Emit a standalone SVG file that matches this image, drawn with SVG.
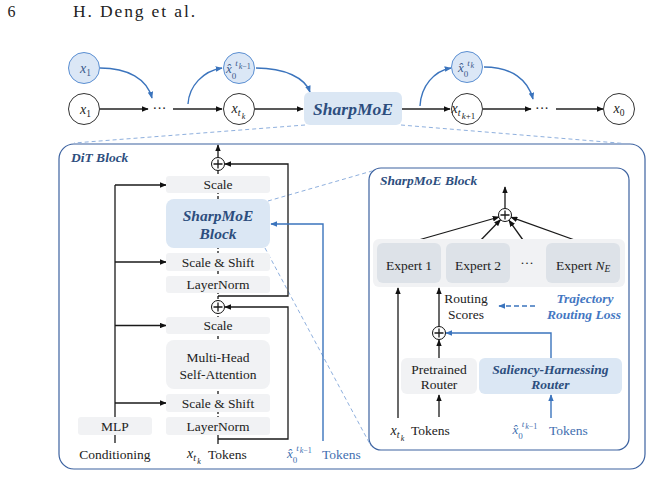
<svg xmlns="http://www.w3.org/2000/svg" width="652" height="477" viewBox="0 0 652 477">
<defs>
<style>
text{font-family:"Liberation Serif","Times New Roman",serif;fill:#222}
.t{font-size:13.5px;text-anchor:middle}
.bi{font-weight:bold;font-style:italic;fill:#2d4e7e}
.it{font-style:italic}
.up{font-style:normal}
.mb{fill:#3b5a8c}
.blue{fill:#3f6fb0}
.lb{fill:#4477c2;font-weight:bold;font-style:italic}
.box{fill:#f1f2f4}
.bbox{fill:#dbe7f4}
.row{fill:#f1f2f4}
.ex{fill:#dde2e8}
.ln{fill:none;stroke:#1a1a1a;stroke-width:1.3}
.top{fill:none;stroke:#222;stroke-width:1.6}
.bl{fill:none;stroke:#3b74bd;stroke-width:1.4}
.gd{fill:none;stroke:#8fb0de;stroke-width:1;stroke-dasharray:4 3}
.node{fill:#fff;stroke:#333;stroke-width:1}
.bnode{fill:#dbe7f6;stroke:#5b8fd2;stroke-width:1}
.plus{fill:#fff;stroke:#111;stroke-width:1}
.frame{fill:#fff;stroke:#3c62a0;stroke-width:1.2}
</style>
<marker id="ak" viewBox="0 0 10 8" refX="9" refY="4" markerWidth="7" markerHeight="5.6" markerUnits="userSpaceOnUse" orient="auto"><path d="M0,0L10,4L0,8z" fill="#111"/></marker>
<marker id="ab" viewBox="0 0 10 8" refX="9" refY="4" markerWidth="7" markerHeight="5.6" markerUnits="userSpaceOnUse" orient="auto"><path d="M0,0L10,4L0,8z" fill="#3b74bd"/></marker>
</defs>
<rect width="652" height="477" fill="#fff"/>
<g id="header">
<text x="7.5" y="17" font-size="16">6</text>
<text x="73" y="17" font-size="17.5" textLength="122" lengthAdjust="spacing">H. Deng et al.</text>
</g>
<g id="dit-frame"><rect class="frame" x="59" y="144" width="586" height="325" rx="15"/>
<text class="bi" x="71" y="162" font-size="13.5">DiT Block</text></g>
<g id="moe-frame"><rect class="frame" x="369" y="168" width="260" height="282" rx="12"/>
<text class="bi" x="380" y="185" font-size="13.5">SharpMoE Block</text></g>
<g id="guides">
<path class="gd" d="M305,125L74,143"/>
<path class="gd" d="M401,125L624,143.5"/>
<path class="gd" d="M268,201L372,171"/>
<path class="gd" d="M265,248L371,446"/>
</g>
<g id="connectors">
<path class="top" d="M100,109H148" marker-end="url(#ak)"/>
<path class="top" d="M173,109H222" marker-end="url(#ak)"/>
<path class="top" d="M255,109H303" marker-end="url(#ak)"/>
<path class="top" d="M402,109H450" marker-end="url(#ak)"/>
<path class="top" d="M483,109H531" marker-end="url(#ak)"/>
<path class="top" d="M556,109H603" marker-end="url(#ak)"/>
<path class="bl" d="M100,68C128,68 147,79 152,98" marker-end="url(#ab)"/>
<path class="bl" d="M188,104C189,86 203,71 222,68" marker-end="url(#ab)"/>
<path class="bl" d="M256,68C285,68 305,78 310,92" marker-end="url(#ab)"/>
<path class="bl" d="M420,106C421,86 434,71 451,68" marker-end="url(#ab)"/>
<path class="bl" d="M484,67C512,67 528,80 533,99" marker-end="url(#ab)"/>
<path class="ln" stroke-dasharray="3 2" d="M218,171V435"/>
<path class="ln" d="M218,435V444"/>
<path class="ln" d="M218,157.5V145" marker-end="url(#ak)"/>
<path class="ln" d="M218,296H288V164H225" marker-end="url(#ak)"/>
<path class="ln" d="M218,439H288V307H225" marker-end="url(#ak)"/>
<path class="ln" d="M115,443V185"/>
<path class="ln" d="M115,185H166" marker-end="url(#ak)"/>
<path class="ln" d="M115,262H166" marker-end="url(#ak)"/>
<path class="ln" d="M115,325.5H166" marker-end="url(#ak)"/>
<path class="ln" d="M115,403H166" marker-end="url(#ak)"/>
<path class="bl" d="M323,441V224H271" marker-end="url(#ab)"/>
<path class="ln" d="M398,418V288" marker-end="url(#ak)"/>
<path class="ln" d="M439,326.5V288" marker-end="url(#ak)"/>
<path class="ln" d="M439,358V340" marker-end="url(#ak)"/>
<path class="ln" d="M439,417V395" marker-end="url(#ak)"/>
<path class="bl" d="M551,358V333H446" marker-end="url(#ab)"/>
<path class="bl" d="M551,418V395" marker-end="url(#ab)"/>
<path class="bl" stroke-dasharray="5 3" d="M535,306H499" marker-end="url(#ab)"/>
<path class="ln" d="M408,243L499,217" marker-end="url(#ak)"/>
<path class="ln" d="M478,243L500.5,219.7" marker-end="url(#ak)"/>
<path class="ln" d="M523,240L509,220.3" marker-end="url(#ak)"/>
<path class="ln" d="M583,243L511,217.2" marker-end="url(#ak)"/>
<path class="ln" d="M505,208.5V187" marker-end="url(#ak)"/>
</g>
<g id="n-x1-blue"><circle class="bnode" cx="84" cy="68" r="15.5"/>
<text class="it mb" x="80" y="72.5" font-size="14">x<tspan class="up" font-size="9.5" dy="3">1</tspan></text></g>
<g id="n-x1"><circle class="node" cx="84" cy="109" r="15.5"/>
<text class="it" x="80" y="113.5" font-size="14">x<tspan class="up" font-size="9.5" dy="3">1</tspan></text></g>
<g id="n-dots1"><text x="159.5" y="112.5" font-size="14" text-anchor="middle">···</text></g>
<g id="n-xtk"><circle class="node" cx="239" cy="109" r="15.5"/>
<text class="it" x="231.5" y="113" font-size="14">x<tspan font-size="10" dy="3">t</tspan><tspan font-size="8" dx="1.3" dy="3">k</tspan></text></g>
<g id="n-x0hat-tk1"><circle class="bnode" cx="239" cy="68" r="15.5"/>
<text class="it mb" x="226" y="72.5" font-size="13">x̂<tspan class="up" font-size="9" dy="6.5">0</tspan><tspan font-size="9" dx="-1" dy="-13">t</tspan><tspan font-size="8" dx="1" dy="2.5">k<tspan class="up">−1</tspan></tspan></text></g>
<g id="n-sharpmoe"><rect class="bbox" x="304" y="92" width="98" height="33" rx="6"/>
<text class="bi" x="353" y="115" font-size="17.5" text-anchor="middle">SharpMoE</text></g>
<g id="n-xtk1"><circle class="node" cx="467" cy="109" r="15.5"/>
<text class="it" x="451.5" y="113" font-size="14">x<tspan font-size="10" dy="3">t</tspan><tspan font-size="9" dx="1.2" dy="3">k<tspan class="up">+1</tspan></tspan></text></g>
<g id="n-x0hat-tk"><circle class="bnode" cx="467" cy="67" r="15.5"/>
<text class="it mb" x="458" y="71.5" font-size="13">x̂<tspan class="up" font-size="9" dy="5">0</tspan><tspan font-size="9" dx="-1" dy="-11">t</tspan><tspan font-size="8" dx="0.8" dy="2.5">k</tspan></text></g>
<g id="n-dots2"><text x="542" y="112.5" font-size="14" text-anchor="middle">···</text></g>
<g id="n-x0"><circle class="node" cx="619" cy="109" r="15.5"/>
<text class="it" x="613.5" y="113" font-size="14">x<tspan class="up" font-size="9.5" dy="3">0</tspan></text></g>

<g id="d-plus1"><circle class="plus" cx="218" cy="164" r="6.5"/><path class="ln" stroke-width="1" d="M213.5,164H222.5M218,159.5V168.5"/></g>
<g id="d-scale1"><rect class="box" x="166" y="176" width="104" height="17" rx="3"/><text class="t" x="218" y="189">Scale</text></g>
<g id="d-moeblock"><rect class="bbox" x="166" y="199" width="104" height="49" rx="8"/>
<text class="bi" x="218" y="220.5" font-size="15.5" text-anchor="middle">SharpMoE</text><text class="bi" x="218" y="238.5" font-size="15.5" text-anchor="middle">Block</text></g>
<g id="d-ss1"><rect class="box" x="166" y="253" width="104" height="18" rx="3"/><text class="t" x="218" y="266.5">Scale &amp; Shift</text></g>
<g id="d-ln1"><rect class="box" x="166" y="276" width="104" height="17" rx="3"/><text class="t" x="218" y="289">LayerNorm</text></g>
<g id="d-plus2"><circle class="plus" cx="218" cy="307" r="6.5"/><path class="ln" stroke-width="1" d="M213.5,307H222.5M218,302.5V311.5"/></g>
<g id="d-scale2"><rect class="box" x="166" y="317" width="104" height="17" rx="3"/><text class="t" x="218" y="330">Scale</text></g>
<g id="d-mhsa"><rect class="box" x="166" y="340" width="104" height="49" rx="8"/>
<text class="t" x="218" y="361.5">Multi-Head</text><text class="t" x="218" y="378.5">Self-Attention</text></g>
<g id="d-ss2"><rect class="box" x="166" y="394" width="104" height="18" rx="3"/><text class="t" x="218" y="407.5">Scale &amp; Shift</text></g>
<g id="d-ln2"><rect class="box" x="166" y="417" width="104" height="18" rx="3"/><text class="t" x="218" y="430.5">LayerNorm</text></g>
<g id="d-mlp"><rect class="box" x="78" y="417" width="74" height="18" rx="3"/><text class="t" x="115" y="430.5">MLP</text></g>
<g id="d-cond"><text class="t" x="115" y="458.5">Conditioning</text></g>
<g id="d-xtk"><text class="it" x="187" y="458" font-size="14">x<tspan font-size="10" dy="3">t</tspan><tspan font-size="8" dx="1.3" dy="3">k</tspan></text><text x="208" y="458.5" font-size="13.5">Tokens</text></g>
<g id="d-x0hat"><text class="it blue" x="287" y="458" font-size="13">x̂<tspan class="up" font-size="9" dy="5">0</tspan><tspan font-size="9" dx="-1" dy="-12.5">t</tspan><tspan font-size="8" dx="1" dy="2.5">k<tspan class="up">−1</tspan></tspan></text><text class="blue" x="322" y="458.5" font-size="13.5">Tokens</text></g>

<g id="m-plus-top"><circle class="plus" cx="505" cy="215" r="6.5"/><path class="ln" stroke-width="1" d="M500.5,215H509.5M505,210.5V219.5"/></g>
<g id="m-experts"><rect class="row" x="373" y="239" width="252" height="48" rx="6"/></g>
<g id="m-e1"><rect class="ex" x="377" y="243" width="64" height="40" rx="6"/><text class="t" x="409" y="269.5">Expert 1</text></g>
<g id="m-e2"><rect class="ex" x="446" y="243" width="64" height="40" rx="6"/><text class="t" x="478" y="269.5">Expert 2</text></g>
<g id="m-edots"><text class="t" x="527" y="267">···</text></g>
<g id="m-en"><rect class="ex" x="546" y="243" width="74" height="40" rx="6"/><text x="556" y="269.5" font-size="13.5">Expert <tspan font-style="italic">N</tspan><tspan font-style="italic" font-size="9.5" dy="2.5">E</tspan></text></g>
<g id="m-scores"><text class="t" x="466" y="302.5">Routing</text><text class="t" x="466" y="319">Scores</text></g>
<g id="m-loss"><text class="t lb" x="585" y="302.5" font-size="13">Trajectory</text><text class="t lb" x="584" y="319" font-size="13">Routing Loss</text></g>
<g id="m-plus2"><circle class="plus" cx="439" cy="333" r="6.5"/><path class="ln" stroke-width="1" d="M434.5,333H443.5M439,328.5V337.5"/></g>
<g id="m-pre"><rect class="box" x="401" y="358" width="76" height="36" rx="6"/><text class="t" x="439" y="373.5">Pretrained</text><text class="t" x="439" y="389">Router</text></g>
<g id="m-sal"><rect class="bbox" x="479" y="358" width="143" height="36" rx="6"/><text class="t bi" x="550.5" y="373.5">Saliency-Harnessing</text><text class="t bi" x="550.5" y="389">Router</text></g>
<g id="m-xtk"><text class="it" x="390.5" y="435" font-size="14">x<tspan font-size="10" dy="3">t</tspan><tspan font-size="8" dx="1.3" dy="3">k</tspan></text><text x="411" y="434.5" font-size="13.5">Tokens</text></g>
<g id="m-x0hat"><text class="it blue" x="512.5" y="434" font-size="13">x̂<tspan class="up" font-size="9" dy="5">0</tspan><tspan font-size="9" dx="-1" dy="-12.5">t</tspan><tspan font-size="8" dx="1" dy="2.5">k<tspan class="up">−1</tspan></tspan></text><text class="blue" x="549" y="434.5" font-size="13.5">Tokens</text></g>
</svg>
